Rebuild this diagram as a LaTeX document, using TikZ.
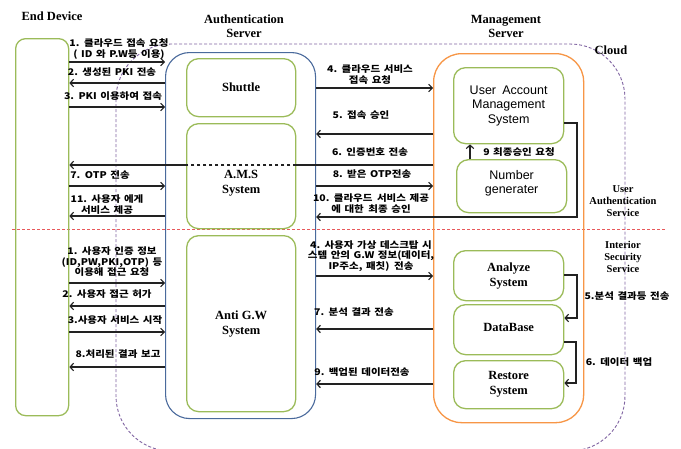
\documentclass[tikz,border=0pt]{standalone}
\usepackage{fontspec}
\setmainfont{Liberation Serif}
\newfontfamily\kr{Noto Sans CJK KR}[FakeStretch=1.14,WordSpace=1.5]
\newfontfamily\arial{Liberation Sans}
\usetikzlibrary{arrows.meta}

\definecolor{boxgreen}{HTML}{9BBB59}
\definecolor{authblue}{HTML}{4A6A9C}
\definecolor{mgmtorange}{HTML}{F79646}
\definecolor{cloudpurple}{HTML}{8064A2}
\definecolor{zonered}{HTML}{E8585A}
\definecolor{ink}{HTML}{222222}

\tikzset{
  edbox/.style={draw=boxgreen,line width=1.3pt,rounded corners=10pt,anchor=north west,inner sep=0pt},
  greenbox/.style={draw=boxgreen,line width=1.3pt,rounded corners=12pt,align=center,anchor=north west,inner sep=0pt},
  authbox/.style={draw=authblue,line width=1.1pt,rounded corners=24pt,anchor=north west,inner sep=0pt},
  mgmtbox/.style={draw=mgmtorange,line width=1.3pt,rounded corners=28pt,anchor=north west,inner sep=0pt},
  flow/.style={draw=ink,line width=1.1pt},
  arr/.style={flow,-{Straight Barb[length=3.6pt,width=7.5pt]}},
  lbl/.style={font=\kr\bfseries\fontsize{9.2}{10.5}\selectfont,align=center,inner sep=0pt},
  title/.style={font=\bfseries\fontsize{12.5}{14}\selectfont,align=center,inner sep=0pt},
  smalltitle/.style={font=\bfseries\fontsize{10.5}{12.3}\selectfont,align=center,inner sep=0pt},
  serifbox/.style={font=\bfseries\fontsize{12.5}{15}\selectfont,align=center},
  sansbox/.style={font=\arial\fontsize{12.5}{14.5}\selectfont,align=center},
  zoneline/.style={draw=zonered,line width=0.9pt,dash pattern=on 3pt off 2pt},
  cloudline/.style={draw=cloudpurple,line width=0.9pt,dash pattern=on 3pt off 2pt},
}

\begin{document}
\begin{tikzpicture}[x=1pt,y=-1pt]
\useasboundingbox[fill=white] (0,0) rectangle (681,448);

% cloud boundary and the split between the two services
\begin{scope}
  \clip (0,0) rectangle (681,448);
  \draw[cloudline,rounded corners=55pt] (116,44) rectangle (625,451);
\end{scope}
\draw[zoneline] (12,229) -- (665,229);

% titles
\node[title] (tED) at (52,16) {End Device};
\node[title] (tAS) at (244,26) {Authentication\\Server};
\node[title] (tMS) at (506,26) {Management\\Server};
\node[title] (tCloud) at (611,50) {Cloud};
\node[smalltitle] (tUAS) at (623,201) {User\\Authentication\\Service};
\node[smalltitle] (tISS) at (623,257) {Interior\\Security\\Service};

% components
\node[edbox, minimum width=53pt, minimum height=377pt] (ed) at (15,38) {};
\node[authbox, minimum width=150pt, minimum height=366pt] (auth) at (165,52) {};
\node[greenbox, serifbox, minimum width=109pt, minimum height=58pt] (shuttle) at (186,58) {Shuttle};
\node[greenbox, minimum width=109pt, minimum height=105pt] (ams) at (186,123) {};
\node[serifbox] (amstext) at ([yshift=-7pt]ams.center) {A.M.S\\System};
\node[greenbox, serifbox, minimum width=109pt, minimum height=176pt] (antigw) at (186,235) {Anti G.W\\System};
\node[mgmtbox, minimum width=150pt, minimum height=369pt] (mgmt) at (433,53) {};
\node[greenbox, sansbox, minimum width=110pt, minimum height=76pt] (uams) at (453,67) {User\enspace Account\\Management\\System};
\node[greenbox, minimum width=110pt, minimum height=53pt] (numgen) at (456,159) {};
\node[sansbox] (numgentext) at ([yshift=3pt]numgen.center) {Number\\generater};
\node[greenbox, serifbox, minimum width=110pt, minimum height=50pt] (analyze) at (453,250) {Analyze\\System};
\node[greenbox, minimum width=110pt, minimum height=50pt] (database) at (453,304) {};
\node[serifbox] (dbtext) at ([yshift=2pt]database.center) {DataBase};
\node[greenbox, serifbox, minimum width=110pt, minimum height=48pt] (restore) at (453,360) {Restore\\System};

% user authentication flow
\draw[arr] (ed.east |- 0,62) -- (auth.west |- 0,62);
\draw[arr] (auth.west |- 0,83) -- (ed.east |- 0,83);
\draw[arr] (ed.east |- 0,107) -- (auth.west |- 0,107);
\draw[arr] (auth.east |- 0,88) -- (mgmt.west |- 0,88);
\draw[arr] (mgmt.west |- 0,134) -- (auth.east |- 0,134);
\draw[flow] (mgmt.west |- 0,165) -- (ams.east |- 0,165);
\draw[flow,dashed] (ams.east |- 0,165) -- (ams.west |- 0,165);
\draw[arr] (ams.west |- 0,165) -- (ed.east |- 0,165);
\draw[arr] (ed.east |- 0,186) -- (auth.west |- 0,186);
\draw[arr] (auth.east |- 0,186) -- (mgmt.west |- 0,186);
\draw[arr] (numgen.north -| 470,0) -- (uams.south -| 470,0);
\coordinate (c10) at (577,217);
\draw[arr] (uams.east |- 0,123) -| (c10) -- (auth.east |- c10);
\draw[arr] (auth.west |- 0,216) -- (ed.east |- 0,216);

% interior security flow
\draw[arr] (ed.east |- 0,283) -- (auth.west |- 0,283);
\draw[arr] (auth.west |- 0,306) -- (ed.east |- 0,306);
\draw[arr] (ed.east |- 0,332) -- (auth.west |- 0,332);
\draw[arr] (auth.west |- 0,367) -- (ed.east |- 0,367);
\draw[arr] (auth.east |- 0,276) -- (mgmt.west |- 0,276);
\draw[arr] (mgmt.west |- 0,329) -- (auth.east |- 0,329);
\draw[arr] (mgmt.west |- 0,384) -- (auth.east |- 0,384);
\coordinate (c5) at (577,318);
\draw[arr] (analyze.east |- 0,275) -| (c5) -- (database.east |- c5);
\coordinate (c6) at (576,383);
\draw[arr] (database.east |- 0,342) -| (c6) -- (restore.east |- c6);

% message labels, upper part
\node[lbl] (m1) at (119,49) {1.\enspace 클라우드 접속 요청\\( ID 와 P.W등 이용)};
\node[lbl] (m2) at (112,72) {2. 생성된 PKI 전송};
\node[lbl] (m3) at (113,96) {3. PKI 이용하여 접속};
\node[lbl] (m4) at (370,74.5) {4. 클라우드 서비스\\접속 요청};
\node[lbl] (m5) at (361,115) {5. 접속 승인};
\node[lbl] (m6) at (370,152) {6. 인증번호 전송};
\node[lbl] (m7) at (100,175) {7.\enspace OTP 전송};
\node[lbl] (m8) at (372,174) {8. 받은 OTP전송};
\node[lbl] (m9) at (519,152) {9 최종승인 요청};
\node[lbl] (m10) at (371,203.5) {10. 클라우드\enspace 서비스 제공\\에 대한\enspace 최종 승인};
\node[lbl] (m11) at (107,204.5) {11. 사용자 에게\\서비스 제공};

% message labels, lower part
\node[lbl] (s1) at (112,262) {1. 사용자 인증 정보\\(ID,PW,PKI,OTP) 등\\이용해 접근 요청};
\node[lbl] (s2) at (107,294) {2. 사용자 접근 허가};
\node[lbl] (s3) at (115,320) {3.사용자 서비스 시작};
\node[lbl] (s8) at (118,354) {8.처리된 결과 보고};
\node[lbl] (s4) at (371,256) {4. 사용자 가상 데스크탑 시\\스템 안의 G.W 정보(데이터,\\IP주소, 패칫)\enspace 전송};
\node[lbl] (s7) at (354,312) {7. 분석 결과 전송};
\node[lbl] (s9) at (362,372) {9. 백업된 데이터전송};
\node[lbl] (s5) at (627,296) {5.분석 결과등 전송};
\node[lbl] (s6) at (619,362) {6. 데이터 백업};
\end{tikzpicture}
\end{document}
